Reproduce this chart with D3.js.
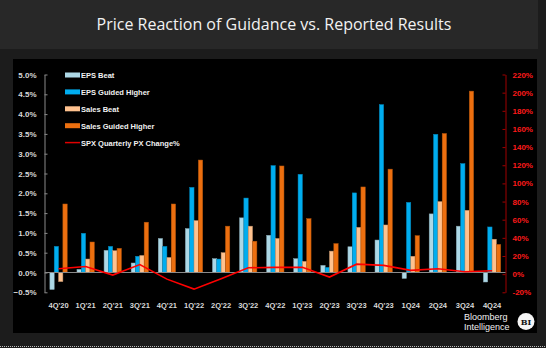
<!DOCTYPE html>
<html>
<head>
<meta charset="utf-8">
<script src="https://cdn.jsdelivr.net/npm/d3@7"></script>
<style>
  html, body { margin: 0; padding: 0; background: #1c1c1c; }
  svg { display: block; }
</style>
</head>
<body>
<script>
// quarters on the x axis
var quarters = ["4Q'20", "1Q'21", "2Q'21", "3Q'21", "4Q'21", "1Q'22", "2Q'22", "3Q'22", "4Q'22",
                "1Q'23", "2Q'23", "3Q'23", "4Q'23", "1Q24", "2Q24", "3Q24", "4Q24"];

// price reaction, % (left axis)
var epsBeat      = [-0.43, 0.08, 0.56, 0.24, 0.86, 1.11, 0.35, 1.38, 0.94, 0.35, 0.18, 0.65, 0.82, -0.15, 1.48, 1.17, -0.24];
var epsGuided    = [0.66, 0.99, 0.66, 0.41, 0.66, 2.15, 0.34, 1.88, 2.70, 2.48, 0.13, 2.01, 4.24, 1.77, 3.49, 2.75, 1.15];
var salesBeat    = [-0.23, 0.34, 0.55, 0.43, 0.38, 1.31, 0.50, 1.17, 0.86, 0.28, 0.54, 1.14, 1.20, 0.41, 1.79, 1.57, 0.84];
var salesGuided  = [1.73, 0.77, 0.61, 1.27, 1.73, 2.84, 1.17, 0.79, 2.69, 1.36, 0.73, 2.16, 2.61, 0.93, 3.51, 4.58, 0.71];

// SPX quarterly change, % (right axis)
var spxChange = [6, 8.5, -1, 10.5, -5.5, -16.5, -5, 7, 7.5, 7.5, -3.2, 11, 9.7, 4.2, 6, 2.7, 3.8];

var leftTicks  = [-0.5, 0, 0.5, 1, 1.5, 2, 2.5, 3, 3.5, 4, 4.5, 5];
var rightTicks = [-20, 0, 20, 40, 60, 80, 100, 120, 140, 160, 180, 200, 220];

var seriesNames  = ["EPS Beat", "EPS Guided Higher", "Sales Beat", "Sales Guided Higher"];
var seriesColors = ["#add8e6", "#00adef", "#ffc28f", "#ec6f0f"];
var seriesValues = [epsBeat, epsGuided, salesBeat, salesGuided];
var lineName = "SPX Quarterly PX Change%";

var W = 546, H = 348;
var svg = d3.select("body").append("svg")
    .attr("width", W)
    .attr("height", H);

// frame
svg.append("rect").attr("x", 0).attr("y", 0).attr("width", W).attr("height", H).attr("fill", "#1c1c1c");
svg.append("rect").attr("x", 0).attr("y", 0).attr("width", 538).attr("height", 49).attr("fill", "#282828");
svg.append("rect").attr("x", 13).attr("y", 59).attr("width", 524).attr("height", 274).attr("fill", "#000");
svg.append("line")
    .attr("x1", 0).attr("x2", W).attr("y1", 346.5).attr("y2", 346.5)
    .attr("stroke", "#bbb").attr("stroke-width", 1).attr("stroke-dasharray", "1,1");

svg.append("text")
    .attr("x", 274).attr("y", 30)
    .attr("text-anchor", "middle")
    .attr("font-family", "'Open Sans', sans-serif")
    .attr("font-size", "16px")
    .attr("fill", "#f2f2f2")
    .text("Price Reaction of Guidance vs. Reported Results");

// scales
var x = d3.scaleBand().domain(quarters).range([45, 505.6]).paddingInner(0.36).paddingOuter(0.18);
var xs = d3.scaleBand().domain(seriesNames).range([0, x.bandwidth()]);
var yL = d3.scaleLinear().domain([-0.5, 5]).range([292.3, 74.5]);
var yR = d3.scaleLinear().domain([-20, 220]).range([292.3, 74.5]);

// left axis
var gL = svg.append("g")
    .attr("transform", "translate(44.5,0)")
    .call(d3.axisLeft(yL).tickValues(leftTicks).tickSizeInner(-3).tickSizeOuter(0).tickPadding(8)
        .tickFormat(function(d) { return d3.format(".1f")(d) + "%"; }));
gL.select(".domain").attr("stroke", "#8a8a8a");
gL.selectAll(".tick line").attr("stroke", "#8a8a8a");
gL.selectAll(".tick text")
    .attr("fill", "#d9d9d9")
    .attr("font-family", "'Liberation Sans', Arial, sans-serif")
    .attr("font-weight", "bold")
    .attr("font-size", "8px");

// right axis
var gR = svg.append("g")
    .attr("transform", "translate(505.5,0)")
    .call(d3.axisRight(yR).tickValues(rightTicks).tickSizeInner(-3).tickSizeOuter(0).tickPadding(7)
        .tickFormat(function(d) { return d + "%"; }));
gR.select(".domain").attr("stroke", "#a00000");
gR.selectAll(".tick line").attr("stroke", "#a00000");
gR.selectAll(".tick text")
    .attr("fill", "#ff1a1a")
    .attr("font-family", "'Liberation Sans', Arial, sans-serif")
    .attr("font-weight", "bold")
    .attr("font-size", "8px");

// x labels
var gX = svg.append("g")
    .attr("transform", "translate(0," + 302.5 + ")")
    .call(d3.axisBottom(x).tickSize(0).tickPadding(0));
gX.select(".domain").remove();
gX.selectAll(".tick text")
    .attr("fill", "#d9d9d9")
    .attr("font-family", "'Liberation Sans', Arial, sans-serif")
    .attr("font-weight", "bold")
    .attr("font-size", "7.5px");

// bars
var rows = [];
quarters.forEach(function(q, i) {
    seriesNames.forEach(function(s, k) {
        rows.push({q: q, s: s, v: seriesValues[k][i], c: seriesColors[k]});
    });
});

svg.append("g").selectAll("rect")
    .data(rows)
    .enter()
    .append("rect")
    .attr("x", function(d) { return x(d.q) + xs(d.s); })
    .attr("width", xs.bandwidth())
    .attr("y", function(d) { return Math.min(yL(0), yL(d.v)); })
    .attr("height", function(d) { return Math.abs(yL(d.v) - yL(0)); })
    .attr("fill", function(d) { return d.c; })
    .attr("stroke", function(d) { return d3.color(d.c).darker(0.8); })
    .attr("stroke-width", 0.5);

// zero line
svg.append("line")
    .attr("x1", 45).attr("x2", 505.5)
    .attr("y1", yL(0)).attr("y2", yL(0))
    .attr("stroke", "#8a8a8a").attr("stroke-width", 1);

// spx line
var line = d3.line()
    .x(function(d, i) { return x(quarters[i]) + x.bandwidth() / 2; })
    .y(function(d) { return yR(d); });
svg.append("path")
    .datum(spxChange)
    .attr("d", line)
    .attr("fill", "none")
    .attr("stroke", "#ff0000")
    .attr("stroke-width", 1.6);

// legend
var legend = svg.append("g").attr("transform", "translate(65,75)");
var items = seriesNames.concat([lineName]);
items.forEach(function(name, i) {
    var g = legend.append("g").attr("transform", "translate(0," + (i * 16.9) + ")");
    if (i < 4) {
        g.append("rect").attr("x", 0).attr("y", -2.5).attr("width", 15).attr("height", 5)
            .attr("fill", seriesColors[i]);
    } else {
        g.append("line").attr("x1", 0).attr("x2", 15).attr("y1", 0).attr("y2", 0)
            .attr("stroke", "#e00000").attr("stroke-width", 1.5);
    }
    g.append("text")
        .attr("x", 16).attr("y", 3)
        .attr("fill", "#f2f2f2")
        .attr("font-family", "'Liberation Sans', Arial, sans-serif")
        .attr("font-weight", "bold")
        .attr("font-size", "7.5px")
        .text(name);
});

// branding
svg.append("text").attr("x", 464).attr("y", 319.5)
    .attr("fill", "#f2f2f2").attr("font-family", "'Liberation Sans', Arial, sans-serif").attr("font-size", "9px")
    .text("Bloomberg");
svg.append("text").attr("x", 464).attr("y", 330)
    .attr("fill", "#f2f2f2").attr("font-family", "'Liberation Sans', Arial, sans-serif").attr("font-size", "9px")
    .text("Intelligence");
svg.append("circle").attr("cx", 526).attr("cy", 321.5).attr("r", 8.5).attr("fill", "#f5f5f5");
svg.append("text").attr("x", 526).attr("y", 324.5)
    .attr("text-anchor", "middle")
    .attr("fill", "#111").attr("font-family", "'DejaVu Serif', serif").attr("font-weight", "bold")
    .attr("font-size", "8px")
    .text("BI");
</script>
</body>
</html>
